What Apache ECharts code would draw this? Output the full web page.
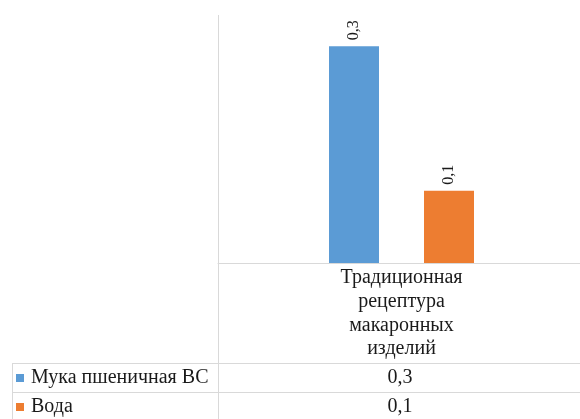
<!DOCTYPE html>
<html>
<head>
<meta charset="utf-8">
<script src="https://cdn.jsdelivr.net/npm/echarts@6/dist/echarts.min.js"></script>
<style>
  html, body { margin: 0; padding: 0; background: #fff; }
  #chart { width: 580px; height: 419px; }
</style>
</head>
<body>
<div id="chart"></div>
<script>
// данные
var categories = ['Традиционная рецептура макаронных изделий'];
var seriesNames = ['Мука пшеничная ВС', 'Вода'];
var flourValues = [0.3];
var waterValues = [0.1];
var colors = ['#5b9bd5', '#ed7d31'];

var serif = '"Liberation Serif", "DejaVu Serif", serif';
var lineColor = '#d9d9d9';

function comma(v) {
    return String(v).replace('.', ',');
}

var myChart = echarts.init(document.getElementById('chart'));

// таблица данных под осью
var rowsTop = [364, 393];
var graphics = [
    { type: 'line', shape: { x1: 218.5, y1: 15, x2: 218.5, y2: 419 }, style: { stroke: lineColor, lineWidth: 1 } },
    { type: 'line', shape: { x1: 12.5, y1: 363.5, x2: 12.5, y2: 419 }, style: { stroke: lineColor, lineWidth: 1 } },
    { type: 'line', shape: { x1: 12, y1: 363.5, x2: 580, y2: 363.5 }, style: { stroke: lineColor, lineWidth: 1 } },
    { type: 'line', shape: { x1: 12, y1: 392.5, x2: 580, y2: 392.5 }, style: { stroke: lineColor, lineWidth: 1 } }
];
[flourValues, waterValues].forEach(function (vals, i) {
    graphics.push({
        type: 'text',
        x: 400,
        y: rowsTop[i] + 14,
        style: {
            text: comma(vals[0]),
            font: '20px ' + serif,
            fill: '#1a1a1a',
            textAlign: 'center',
            textVerticalAlign: 'middle'
        }
    });
});

var barLabel = {
    show: true,
    position: 'top',
    rotate: 90,
    align: 'left',
    verticalAlign: 'middle',
    distance: 6,
    fontFamily: serif,
    fontSize: 16,
    color: '#1a1a1a',
    formatter: function (p) { return comma(p.value); }
};

var option = {
    animation: false,
    backgroundColor: '#fff',
    grid: { left: 218, right: -5, top: 10, bottom: 156, containLabel: false, outerBoundsMode: 'none' },
    legend: {
        orient: 'vertical',
        left: 16,
        top: 367,
        padding: 0,
        itemWidth: 8,
        itemHeight: 8,
        itemGap: 7,
        icon: 'rect',
        textStyle: { fontFamily: serif, fontSize: 20, lineHeight: 22, color: '#1a1a1a', padding: [0, 0, 0, 2] },
        data: seriesNames
    },
    xAxis: {
        type: 'category',
        data: categories,
        axisLine: { show: true, lineStyle: { color: lineColor, width: 1 } },
        axisTick: { show: false },
        axisLabel: {
            margin: 3,
            fontFamily: serif,
            fontSize: 20,
            lineHeight: 23.7,
            color: '#1a1a1a',
            align: 'center',
            formatter: function (v) { return v.split(' ').join('\n'); }
        }
    },
    yAxis: {
        type: 'value',
        min: 0,
        max: 0.35,
        show: false,
        splitLine: { show: false }
    },
    series: [
        {
            name: seriesNames[0],
            type: 'bar',
            data: flourValues,
            barWidth: 50,
            barGap: '90%',
            itemStyle: { color: colors[0] },
            label: barLabel
        },
        {
            name: seriesNames[1],
            type: 'bar',
            data: waterValues,
            barWidth: 50,
            barGap: '90%',
            itemStyle: { color: colors[1] },
            label: barLabel
        }
    ],
    graphic: graphics
};

myChart.setOption(option);
</script>
</body>
</html>
